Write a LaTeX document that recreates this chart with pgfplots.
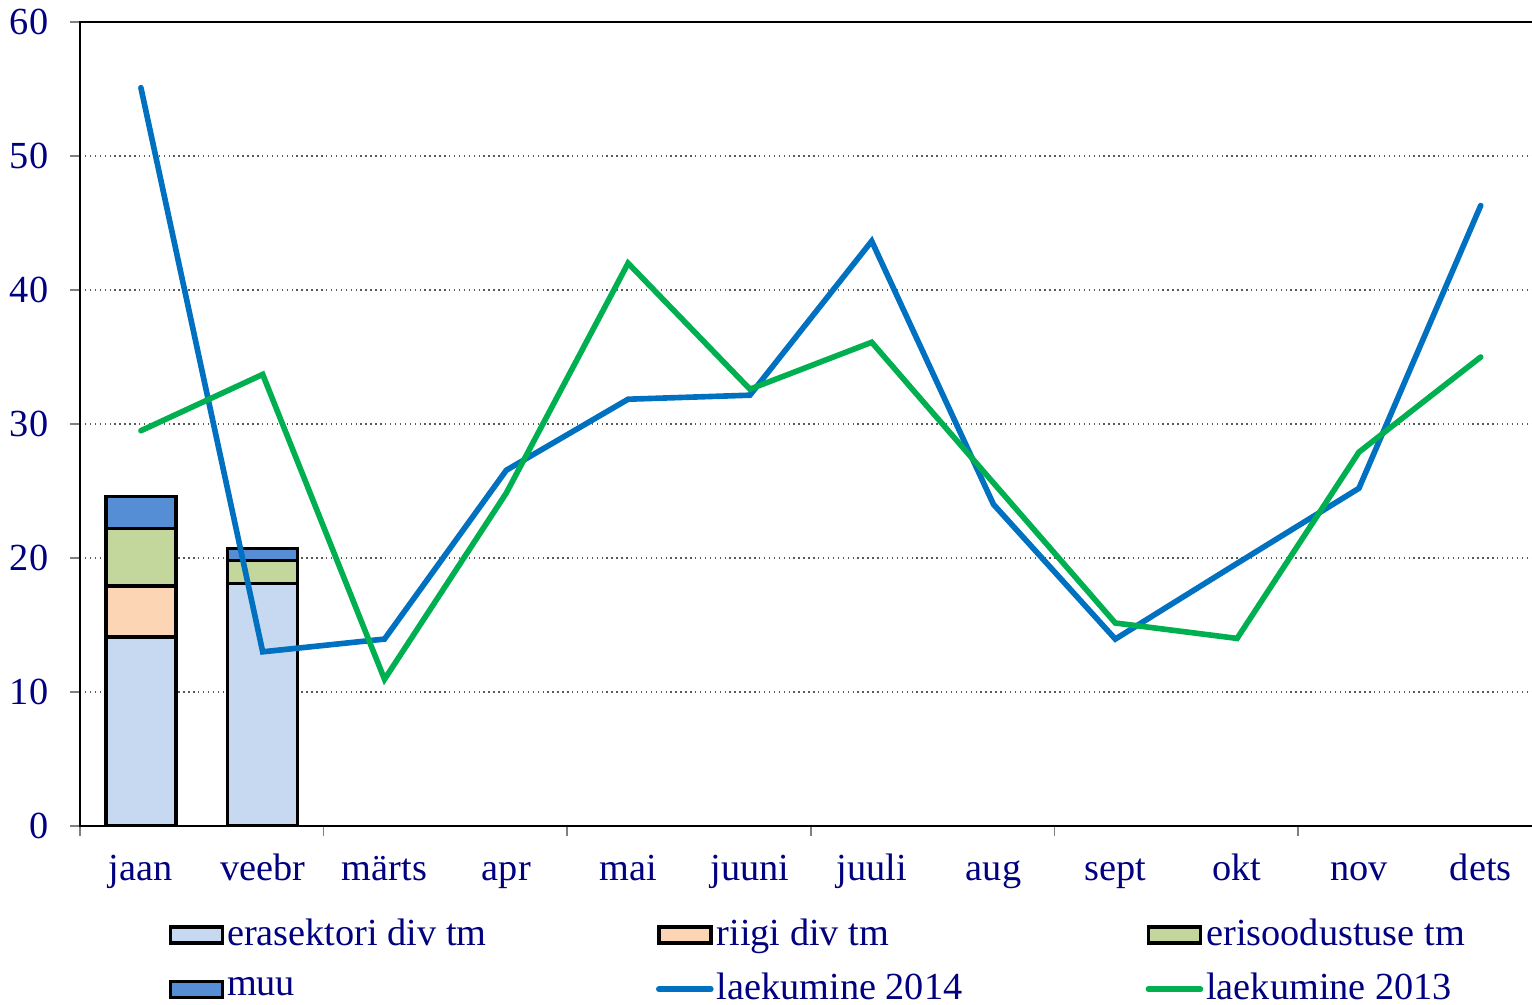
\documentclass[border=0pt]{standalone}
\usepackage{pgfplots}
\pgfplotsset{compat=1.18}
\usepackage{fontspec}
\setmainfont{Liberation Serif}
\definecolor{navy}{RGB}{0,0,128}
\definecolor{cEra}{RGB}{198,217,241}
\definecolor{cRiigi}{RGB}{252,213,181}
\definecolor{cEri}{RGB}{195,214,155}
\definecolor{cMuu}{RGB}{85,142,213}
\definecolor{cA}{RGB}{0,112,192}
\definecolor{cB}{RGB}{0,176,80}
\pgfplotsset{
  base/.style={scale only axis, width=146.16mm, height=80.4mm,
    xmin=-0.5, xmax=11.5, ymin=0, ymax=60, at={(0,0)}, anchor=south west},
  barleg/.style={legend image code/.code={\draw[##1, line width=0.95pt] (0mm,-0.8mm) rectangle (5.2mm,0.8mm);}},
  lineleg/.style={legend image code/.code={\draw[##1, line cap=round] (0mm,0mm) -- (5.2mm,0mm);}},
}
\begin{document}
\fontsize{10.9pt}{13pt}\selectfont
\begin{tikzpicture}
\begin{axis}[base,
  /pgf/number format/assume math mode=true,
  ybar stacked, bar width=7mm,
  axis line style={black, line width=0.7pt},
  tick pos=left, tick align=outside, major tick length=1mm,
  tick style={gray, line width=0.4pt},
  ytick={0,10,...,60},
  ymajorgrids, major grid style={densely dotted, black!65, line width=0.4pt},
  xtick={-0.5,1.5,3.5,5.5,7.5,9.5,11.5}, xticklabels={},
  extra x ticks={0,1,2,3,4,5,6,7,8,9,10,11},
  extra x tick labels={jaan,veebr,m\"arts,apr,mai,juuni,juuli,aug,sept,okt,nov,dets},
  extra x tick style={major tick length=0pt, grid=none},
  tick label style={text=navy, font=\fontsize{10.9pt}{13pt}\selectfont},
  xticklabel style={anchor=base, yshift=-5.4mm},
  yticklabel style={anchor=east, inner sep=0pt, xshift=-2.1mm},
  legend columns=3,
  legend cell align=left,
  legend style={at={(axis description cs:0,0)}, anchor=north west,
    xshift=8.8mm, yshift=-9.2mm, draw=none, fill=none, inner sep=0pt,
    column sep=0pt, row sep=2.2mm,
    nodes={inner xsep=0.3mm, inner ysep=0pt, text=navy},
    font=\fontsize{10.9pt}{13pt}\selectfont},
]
\addplot[fill=cEra, draw=black, line width=0.95pt, barleg] coordinates {(0,14.1) (1,18.1)};
\addlegendentry{\makebox[42.6mm][l]{erasektori div tm}}
\addplot[fill=cRiigi, draw=black, line width=0.95pt, barleg] coordinates {(0,3.8) (1,0)};
\addlegendentry{\makebox[42.6mm][l]{riigi div tm}}
\addplot[fill=cEri, draw=black, line width=0.95pt, barleg] coordinates {(0,4.3) (1,1.7)};
\addlegendentry{\makebox[42.6mm][l]{erisoodustuse tm}}
\addplot[fill=cMuu, draw=black, line width=0.95pt, barleg] coordinates {(0,2.4) (1,0.9)};
\addlegendentry{\makebox[42.6mm][l]{muu}}
\addlegendimage{cA, line width=1.6pt, lineleg}
\addlegendentry{\makebox[42.6mm][l]{laekumine 2014}}
\addlegendimage{cB, line width=1.6pt, lineleg}
\addlegendentry{\makebox[42.6mm][l]{laekumine 2013}}
\end{axis}
\begin{axis}[base, hide axis]
\addplot[cA, line width=1.6pt, line cap=round] coordinates {
(0,55.1) (1,13.0) (2,13.95) (3,26.55) (4,31.85) (5,32.15) (6,43.65) (7,24.0) (8,13.95) (9,19.6) (10,25.2) (11,46.3)};
\addplot[cB, line width=1.6pt, line cap=round] coordinates {
(0,29.5) (1,33.7) (2,10.95) (3,24.85) (4,42.0) (5,32.6) (6,36.1) (7,25.6) (8,15.15) (9,14.0) (10,27.9) (11,35.0)};
\end{axis}
\pgfresetboundingbox
\useasboundingbox (-8mm,-17.8mm) rectangle (145.2mm,82.6mm);
\end{tikzpicture}
\end{document}
